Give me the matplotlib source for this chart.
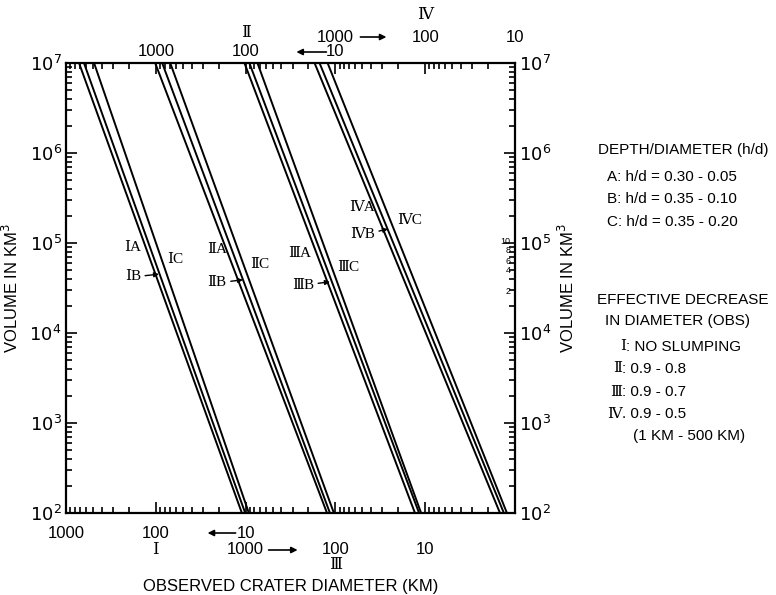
import numpy as np
import matplotlib
matplotlib.use('Agg')
import matplotlib.pyplot as plt
from matplotlib.transforms import offset_copy
from matplotlib.ticker import LogLocator, NullFormatter

plt.rcParams['font.family'] = ['Liberation Sans', 'DejaVu Sans']
SERIF = ['Liberation Serif', 'DejaVu Serif']

# ---- data ----
groups = ['I', 'II', 'III', 'IV']
variants = ['A', 'B', 'C']
# each group is plotted against its own diameter scale (I and III bottom, II and IV top)
scale_factor = {'I': 1, 'II': 10, 'III': 100, 'IV': 1000}
volume_ends = [1e7, 1e2]  # km^3
# observed diameter (km, in the group's own scale) where each line meets 1e7 and 1e2 km^3
diam_at_1e7 = {'I': [716, 631, 487], 'II': [1016, 849, 691],
               'III': [1030, 908, 738], 'IV': [1706, 1502, 1222]}
diam_at_1e2 = {'I': [11.0, 10.1, 9.2], 'II': [12.4, 11.5, 10.4],
               'III': [13.0, 11.7, 11.1], 'IV': [14.7, 13.3, 12.3]}

roman = {'I': 'Ⅰ', 'II': 'Ⅱ', 'III': 'Ⅲ', 'IV': 'Ⅳ'}

legend_hd = ['A: h/d = 0.30 - 0.05', 'B: h/d = 0.35 - 0.10', 'C: h/d = 0.35 - 0.20']
legend_dec = [('Ⅰ', ': NO SLUMPING'), ('Ⅱ', ': 0.9 - 0.8'),
              ('Ⅲ', ': 0.9 - 0.7'), ('Ⅳ', '. 0.9 - 0.5')]

# small auxiliary scale printed beside the right axis
aux_labels = ['10', '8', '6', '4', '2']
aux_volumes = [1.05e5, 8.15e4, 6.3e4, 4.9e4, 2.86e4]

# line label placement (axis units = scale I diameter, volume)
label_pos = {
    'IA': (180, 9.0e4), 'IC': (61, 6.5e4), 'IB': (180, 4.2e4),
    'IIA': (20.8, 8.4e4), 'IIC': (6.9, 5.7e4), 'IIB': (20.8, 3.6e4),
    'IIIA': (2.48, 7.7e4), 'IIIC': (0.72, 5.3e4), 'IIIB': (2.3, 3.4e4),
    'IVA': (0.50, 2.45e5), 'IVC': (0.148, 1.8e5), 'IVB': (0.50, 1.23e5),
}
arrow_tip = {'IB': (92, 4.5e4), 'IIB': (10.7, 3.9e4),
             'IIIB': (1.15, 3.7e4), 'IVB': (0.26, 1.43e5)}

W, H = 776, 595
fig = plt.figure(figsize=(W / 100, H / 100), dpi=100)
L, R, T, B = 66, 515, 63, 513
ax = fig.add_axes([L / W, 1 - B / H, (R - L) / W, (B - T) / H])

ax.set_xscale('log')
ax.set_yscale('log')
ax.set_xlim(1000, 0.01)
ax.set_ylim(1e2, 1e7)

for g in groups:
    f = scale_factor[g]
    for i, v in enumerate(variants):
        xs = [diam_at_1e7[g][i] / f, diam_at_1e2[g][i] / f]
        ax.plot(xs, volume_ends, color='black', lw=1.4, solid_capstyle='butt')

# line labels
for key, (x, y) in label_pos.items():
    g, v = key[:-1], key[-1]
    txt = roman[g] + v
    if key in arrow_tip:
        ax.annotate(txt, xy=arrow_tip[key], xytext=(x, y), ha='center', va='center',
                    fontsize=11, family=SERIF,
                    arrowprops=dict(arrowstyle='-|>', color='black', lw=1,
                                    mutation_scale=7, shrinkA=1, shrinkB=0))
    else:
        ax.text(x, y, txt, ha='center', va='center', fontsize=11, family=SERIF)

# axes styling
for s in ax.spines.values():
    s.set_linewidth(1.6)
ax.xaxis.set_major_locator(LogLocator(base=10, numticks=10))
ax.xaxis.set_minor_locator(LogLocator(base=10, subs=np.arange(2, 10), numticks=20))
ax.xaxis.set_major_formatter(NullFormatter())
ax.xaxis.set_minor_formatter(NullFormatter())
ax.yaxis.set_minor_locator(LogLocator(base=10, subs=np.arange(2, 10), numticks=20))
ax.yaxis.set_minor_formatter(NullFormatter())
ax.tick_params(which='both', direction='in', top=True, right=True, labelright=True,
               width=1.2, labelsize=13, pad=3)
ax.tick_params(which='major', length=8)
ax.tick_params(which='minor', length=4)
ax.set_yticks([1e2, 1e3, 1e4, 1e5, 1e6, 1e7])
ax.set_yticklabels([r'$10^{%d}$' % k for k in range(2, 8)])

ax.set_ylabel('VOLUME IN KM$^3$', fontsize=12)
ax.yaxis.set_label_coords(-0.10, 0.5)
ax.text(1.115, 0.5, 'VOLUME IN KM$^3$', transform=ax.transAxes, rotation=90,
        ha='center', va='center', fontsize=12)

# little 2..10 scale beside the right axis
for val, lab in zip(aux_volumes, aux_labels):
    ax.text(0.99, val, lab, transform=ax.get_yaxis_transform(), ha='right',
            va='center', fontsize=6.5)

# diameter scale labels
xt = ax.get_xaxis_transform()


def scale_text(x, y0, dy, s, **kw):
    tr = offset_copy(xt, fig=fig, x=0, y=dy, units='dots')
    ax.text(x, y0, s, transform=tr, ha='center', va='center', **kw)


def scale_arrow(x, y0, dy, x_from, x_to):
    tr_a = offset_copy(xt, fig=fig, x=x_from, y=dy, units='dots')
    tr_b = offset_copy(xt, fig=fig, x=x_to, y=dy, units='dots')
    ax.annotate('', xy=(x, y0), xycoords=tr_b, xytext=(x, y0), textcoords=tr_a,
                arrowprops=dict(arrowstyle='-|>', color='black', lw=1.2,
                                mutation_scale=9, shrinkA=0, shrinkB=0),
                annotation_clip=False)


fs = 12
# bottom: scales I and III
for d in [1000, 100, 10]:
    scale_text(d / scale_factor['I'], 0, -20, str(d), fontsize=fs)
scale_arrow(10, 0, -20, -10, -38)
scale_text(100, 0, -37, roman['I'], fontsize=fs, family=SERIF)
for d in [1000, 100, 10]:
    scale_text(d / scale_factor['III'], 0, -37, str(d), fontsize=fs)
scale_arrow(10, 0, -37, 23, 52)
scale_text(1, 0, -52, roman['III'], fontsize=fs, family=SERIF)
ax.text(0.5, -73 / 450, 'OBSERVED CRATER DIAMETER (KM)', transform=ax.transAxes,
        ha='center', va='center', fontsize=12)

# top: scales II and IV
for d in [1000, 100, 10]:
    scale_text(d / scale_factor['II'], 1, 11, str(d), fontsize=fs)
scale_arrow(1, 1, 11, -9, -39)
scale_text(10, 1, 30, roman['II'], fontsize=fs, family=SERIF)
for d in [1000, 100, 10]:
    scale_text(d / scale_factor['IV'], 1, 26, str(d), fontsize=fs)
scale_arrow(1, 1, 26, 25, 51)
scale_text(0.1, 1, 48, roman['IV'], fontsize=fs, family=SERIF)


# legend text at right
def ftext(x, y, s, **kw):
    fig.text(x / W, 1 - y / H, s, va='center', **kw)


ftext(598, 150, 'DEPTH/DIAMETER (h/d)', fontsize=11)
for k, s in enumerate(legend_hd):
    ftext(607, [177, 199, 222][k], s, fontsize=11)
ftext(597, 300, 'EFFECTIVE DECREASE', fontsize=11)
ftext(605, 321, 'IN DIAMETER (OBS)', fontsize=11)
for k, (num, rest) in enumerate(legend_dec):
    y = [347, 369, 392, 414][k]
    x0 = 616 if k == 0 else 612
    ftext(x0 + 10, y, num, fontsize=11, family=SERIF, ha='right')
    ftext(x0 + 10, y, rest, fontsize=11)
ftext(633, 436, '(1 KM - 500 KM)', fontsize=11)

fig.savefig('out.png', dpi=100)
